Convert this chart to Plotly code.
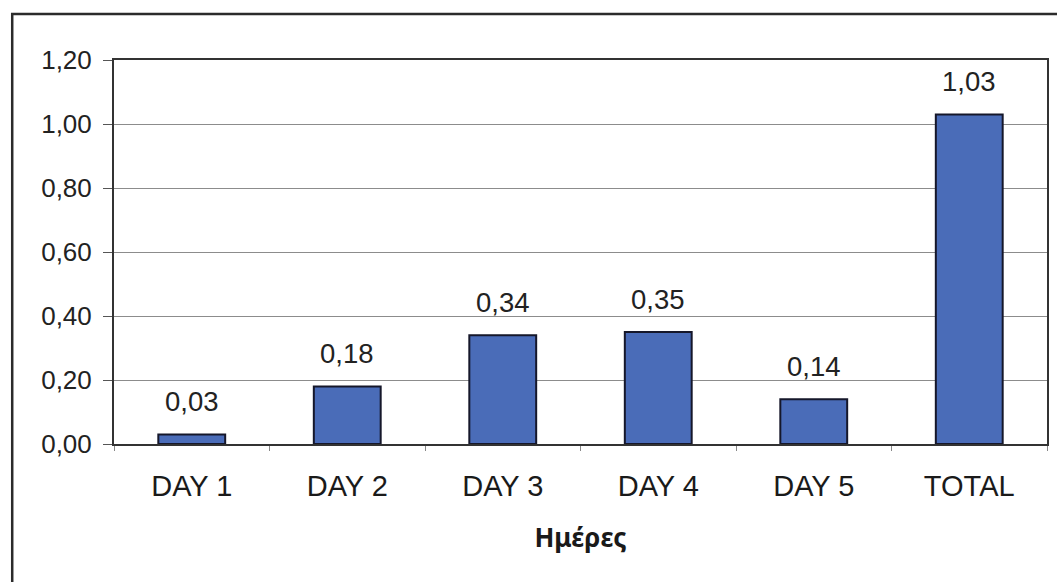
import plotly.graph_objects as go

# Daily values and the overall total
categories = ["DAY 1", "DAY 2", "DAY 3", "DAY 4", "DAY 5", "TOTAL"]
values = [0.03, 0.18, 0.34, 0.35, 0.14, 1.03]
y_ticks = [0.0, 0.2, 0.4, 0.6, 0.8, 1.0, 1.2]
x_title = "Ημέρες"

W, H = 1057, 582
L, R, T, B = 114, 8, 60, 138
pw, ph = W - L - R, H - T - B

def fmt(v):
    return f"{v:.2f}".replace(".", ",")

fig = go.Figure()
fig.add_trace(go.Bar(
    x=categories,
    y=values,
    marker=dict(color="#4a6cb8", line=dict(color="#15172a", width=2)),
    hoverinfo="skip",
))

# value labels above each bar
for c, v in zip(categories, values):
    fig.add_annotation(
        x=c, y=v, text=fmt(v), showarrow=False,
        xanchor="center", yanchor="bottom", yshift=15,
        font=dict(family="Liberation Sans, Arial", size=27.5, color="#222222"),
    )

# outer frame around the chart
fig.add_shape(
    type="rect", xref="paper", yref="paper",
    x0=(12 - L) / pw, x1=(W + 20 - L) / pw,
    y0=-(H + 20 - (T + ph)) / ph, y1=(T + ph - 14) / ph,
    line=dict(color="#2b2b2b", width=2.5), fillcolor="rgba(0,0,0,0)",
    layer="above",
)

fig.update_layout(
    width=W, height=H,
    margin=dict(l=L, r=R, t=T, b=B),
    paper_bgcolor="white", plot_bgcolor="white",
    separators=",.",
    bargap=0.57,
    showlegend=False,
    font=dict(family="Liberation Sans, Arial", size=26, color="#222222"),
)
fig.update_xaxes(
    type="category",
    showline=True, linecolor="#333333", linewidth=2, mirror=True,
    ticks="outside", tickson="boundaries", ticklen=5, tickcolor="#888888",
    ticklabelstandoff=15,
    tickfont=dict(size=29, color="#1a1a1a"),
    showgrid=False,
    title=dict(text=x_title, standoff=28,
               font=dict(family="Noto Sans", size=26, color="#1a1a1a", weight="bold")),
)
fig.update_yaxes(
    range=[0, 1.2],
    tickvals=y_ticks, tickformat=".2f",
    showline=True, linecolor="#333333", linewidth=2, mirror=True,
    ticks="outside", ticklen=9, tickcolor="#555555",
    ticklabelstandoff=6,
    tickfont=dict(size=26, color="#222222"),
    showgrid=True, gridcolor="#8c8c8c", gridwidth=1,
    zeroline=False,
)

fig.write_html("out.html")
